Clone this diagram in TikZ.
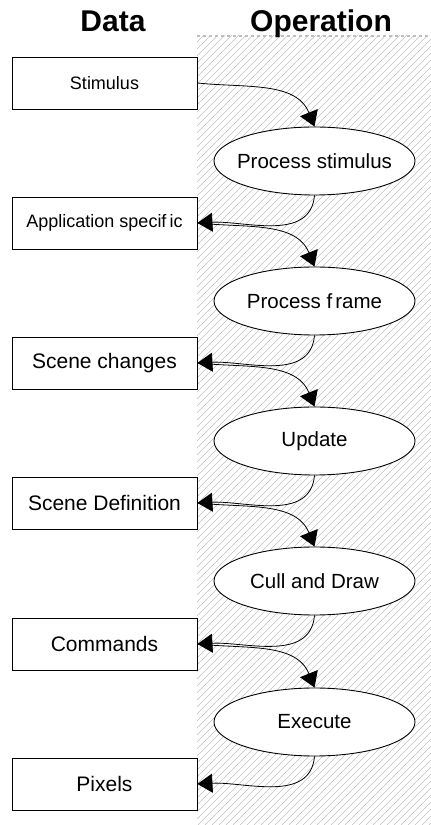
\documentclass[tikz,border=0pt]{standalone}
\usepackage{fontspec}
\setmainfont{Liberation Sans}
\usetikzlibrary{shapes.geometric,arrows.meta}

\begin{document}
\begin{tikzpicture}[x=1pt,y=1pt,
  databox/.style={draw, fill=white, line width=0.9pt, minimum width=185pt,
    minimum height=52pt, inner sep=0pt, font=\fontsize{21}{24}\selectfont},
  smallbox/.style={databox, font=\fontsize{18}{21}\selectfont},
  opnode/.style={draw, fill=white, ellipse, line width=0.9pt,
    minimum width=201pt, minimum height=68pt, inner sep=0pt},
  optext/.style={font=\fontsize{20.5}{24}\selectfont},
  flow/.style={line width=0.8pt, -{Triangle[length=15pt,width=19pt]}},
  godown/.style={flow, out=-6, in=112},
  goback/.style={flow, out=-95, in=3},
  header/.style={font=\fontsize{30}{36}\selectfont\bfseries, anchor=base},
  hatchline/.style={gray!50, line width=0.6pt}
]
\useasboundingbox (0,0) rectangle (431,825);

% hatched band behind the operations column
\begin{scope}
  \clip (197,0) rectangle (431,789);
  \foreach \i in {-600,-593,...,431}
    \draw[hatchline] (\i,0) -- ++(830,830);
\end{scope}
\draw[gray!50, line width=1.2pt, dash pattern=on 3pt off 3pt] (197,789) -- (431,789);

% column headers
\node[header] (hdata) at (113,793) {Data};
\node[header] (hop) at (321,793) {Operation};

% data boxes
\node[smallbox] (stim) at (104.5,742) {Stimulus};
\node[smallbox] (app)  at (104.5,602) {Application specif\kern3pt ic};
\node[databox]  (scc)  at (104.5,462) {Scene changes};
\node[databox]  (scd)  at (104.5,322) {Scene Definition};
\node[databox]  (cmd)  at (104.5,181) {Commands};
\node[databox]  (pix)  at (104.5,41)  {Pixels};

% operations
\node[opnode, label={[optext]center:Process stimulus}] (ps) at (314.5,664) {};
\node[opnode, label={[optext]center:Process f\kern3pt rame}] (pf) at (314.5,524) {};
\node[opnode, label={[optext]center:Update}] (up) at (314.5,384) {};
\node[opnode, label={[optext]center:Cull and Draw}] (cd) at (314.5,244) {};
\node[opnode, label={[optext]center:Execute}] (ex) at (314.5,103) {};

% flow between data and operations
\draw[godown] (stim.east) to (ps.north);
\draw[goback] (ps.south) to (app.east);
\draw[godown] (app.east) to (pf.north);
\draw[goback] (pf.south) to (scc.east);
\draw[godown] (scc.east) to (up.north);
\draw[goback] (up.south) to (scd.east);
\draw[godown] (scd.east) to (cd.north);
\draw[goback] (cd.south) to (cmd.east);
\draw[godown] (cmd.east) to (ex.north);
\draw[goback] (ex.south) to (pix.east);
\end{tikzpicture}
\end{document}
